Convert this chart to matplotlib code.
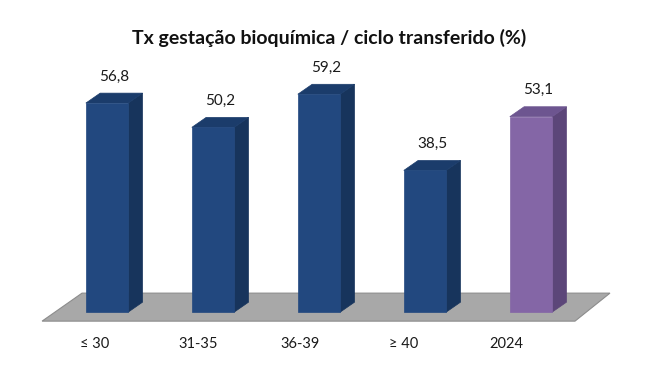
import matplotlib.pyplot as plt
from matplotlib.patches import Polygon

# dados
categorias = ['≤ 30', '31-35', '36-39', '≥ 40', '2024']
valores = [56.8, 50.2, 59.2, 38.5, 53.1]
rotulos = ['56,8', '50,2', '59,2', '38,5', '53,1']
titulo = 'Tx gestação bioquímica / ciclo transferido (%)'

# cores (frente, lado, topo)
azul = ('#22487f', '#17345c', '#1b3c6b')
roxo = ('#8466a6', '#5c4679', '#6d5590')
cores = [azul, azul, azul, azul, roxo]

larg = 0.40     # largura da barra
dx, dy = 0.135, 2.7   # profundidade 3D

plt.rcParams['font.family'] = ['Lato', 'DejaVu Sans']

fig = plt.figure(figsize=(6.55, 3.78), dpi=100)
ax = fig.add_axes([0, 0, 1, 1])
ax.set_xlim(-1.01, 5.17)
ax.set_ylim(-17.9, 84.8)
ax.axis('off')

# piso
piso = Polygon([(-0.613, -2.45), (4.415, -2.45), (4.745, 5.16), (-0.236, 5.16)],
               closed=True, facecolor='#a8a8a8', edgecolor='#8c8c8c', lw=0.8, zorder=1)
ax.add_patch(piso)

for i, v in enumerate(valores):
    f, s, t = cores[i]
    x0 = i - larg / 2
    x1 = i + larg / 2
    # lado
    ax.add_patch(Polygon([(x1, 0), (x1 + dx, dy), (x1 + dx, v + dy), (x1, v)],
                         closed=True, facecolor=s, edgecolor=s, lw=0.5, zorder=2))
    # topo
    ax.add_patch(Polygon([(x0, v), (x1, v), (x1 + dx, v + dy), (x0 + dx, v + dy)],
                         closed=True, facecolor=t, edgecolor=t, lw=0.5, zorder=2))
    # frente
    ax.bar(i, v, width=larg, bottom=0, color=f, edgecolor=f, lw=0.5, zorder=3)
    ax.text(i + dx / 2, v + 7.2, rotulos[i], ha='center', va='center', fontsize=11, color='#1a1a1a')
    # rótulos do eixo (perspectiva: levemente deslocados à esquerda)
    ax.text(-0.113 + i * 0.969, -8.7, categorias[i], ha='center', va='center', fontsize=10.5, color='#1a1a1a')

fig.text(0.502, 0.90, titulo, ha='center', va='center', fontsize=14, fontweight='bold', color='#111111')

fig.savefig('out.png', dpi=100)
